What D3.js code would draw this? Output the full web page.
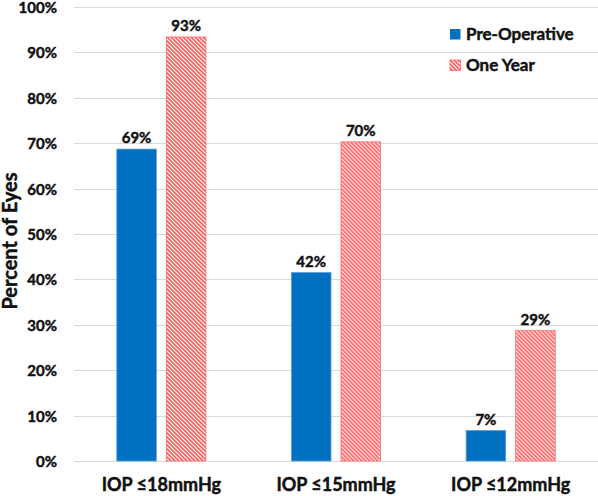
<!DOCTYPE html>
<html><head><meta charset="utf-8">
<script src="https://cdn.jsdelivr.net/npm/d3@7/dist/d3.min.js"></script>
<style>body{margin:0;background:#fff}svg{display:block}text{font-family:Lato,"Open Sans",sans-serif;font-weight:bold;fill:#111;stroke:#111;stroke-width:0.45px}</style>
</head><body><svg id="c" width="598" height="496"></svg>
<script>
const categories = ["IOP \u226418mmHg", "IOP \u226415mmHg", "IOP \u226412mmHg"];
const seriesNames = ["Pre-Operative", "One Year"];
const preOp = [68.7, 41.5, 6.7];
const oneYear = [93.4, 70.3, 28.7];
const labelsPre = ["69%", "42%", "7%"];
const labelsOne = ["93%", "70%", "29%"];
const yTicks = [0,10,20,30,40,50,60,70,80,90,100];

const svg = d3.select("#c");
const W = 598, H = 496;
const m = {l:74, r:0, t:7, b:35};
const defs = svg.append("defs");
const pat = defs.append("pattern").attr("id","hatch").attr("patternUnits","userSpaceOnUse")
  .attr("width",4).attr("height",4);
pat.append("rect").attr("width",4).attr("height",4).attr("fill","#fff");
pat.append("path").attr("d","M-1,-1L5,5M-1,3L1,5M3,-1L5,1").attr("stroke","#FF5B5B").attr("stroke-width",1.6);

const x0 = d3.scaleBand().domain(categories).range([m.l, W-m.r]).padding(0);
const x1 = d3.scaleBand().domain(seriesNames).range([0, x0.bandwidth()]).paddingInner(0.202).paddingOuter(0.864);
const y = d3.scaleLinear().domain([0,100]).range([H-m.b, m.t]);

const g = svg.append("g");
g.selectAll("line.grid").data(yTicks).join("line")
  .attr("x1", m.l).attr("x2", W-m.r)
  .attr("y1", d=>Math.round(y(d))+0.5).attr("y2", d=>Math.round(y(d))+0.5)
  .attr("stroke","#D9D9D9").attr("stroke-width",1);

const yAxis = d3.axisLeft(y).tickValues(yTicks).tickFormat(d=>d+"%").tickSize(0).tickPadding(17);
const ya = svg.append("g").attr("transform",`translate(${m.l},0)`).call(yAxis);
ya.select(".domain").remove();
ya.selectAll("text").attr("font-size",15).attr("dy","0.36em").style("font-family","Lato,sans-serif").style("font-weight","bold").attr("fill","#111");

const xAxis = d3.axisBottom(x0).tickSize(0).tickPadding(17);
const xa = svg.append("g").attr("transform",`translate(0,${H-m.b})`).call(xAxis);
xa.select(".domain").remove();
xa.selectAll("text").attr("font-size",18).style("font-family","Lato,sans-serif").style("font-weight","bold").attr("fill","#111");

const data = categories.map((c,i)=>({c, vals:[
  {s:seriesNames[0], v:preOp[i], lab:labelsPre[i]},
  {s:seriesNames[1], v:oneYear[i], lab:labelsOne[i]}]}));

const grp = svg.selectAll("g.grp").data(data).join("g").attr("class","grp")
  .attr("transform", d=>`translate(${x0(d.c)},0)`);
grp.selectAll("rect").data(d=>d.vals).join("rect")
  .attr("x", d=>x1(d.s)).attr("width", x1.bandwidth())
  .attr("y", d=>y(d.v)).attr("height", d=>y(0)-y(d.v))
  .attr("fill", d=>d.s===seriesNames[0] ? "#0070C0" : "url(#hatch)")
  .attr("stroke", d=>d.s===seriesNames[0] ? "#5B9BD5" : "#FF6B6B")
  .attr("stroke-width", 0.8);
grp.selectAll("text.val").data(d=>d.vals).join("text").attr("class","val")
  .attr("x", d=>x1(d.s)+x1.bandwidth()/2).attr("y", d=>y(d.v)-6)
  .attr("text-anchor","middle").attr("font-size",15).text(d=>d.lab);

svg.append("text").attr("transform",`translate(17,241) rotate(-90)`)
  .attr("text-anchor","middle").attr("font-size",20).text("Percent of Eyes");

const leg = svg.append("g").attr("transform","translate(450,29)");
seriesNames.forEach((s,i)=>{
  const r = leg.append("g").attr("transform",`translate(0,${i*31})`);
  r.append("rect").attr("width",10.5).attr("height",10.5)
    .attr("fill", i===0 ? "#0070C0" : "url(#hatch)")
    .attr("stroke", i===0 ? "none" : "#FF6B6B").attr("stroke-width",0.8);
  r.append("text").attr("x",16).attr("y",10.5).attr("font-size",17).text(s);
});
</script></body></html>
